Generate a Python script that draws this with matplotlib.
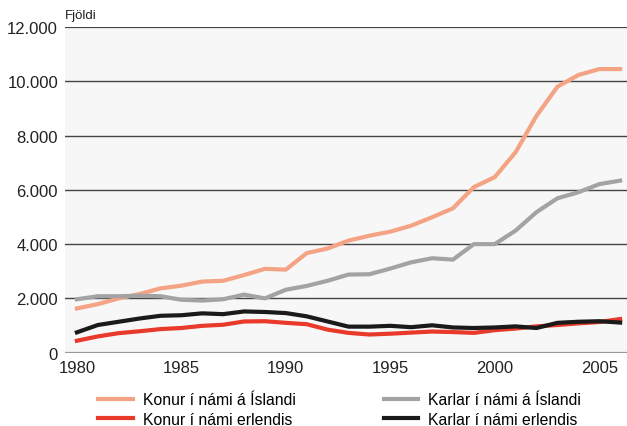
import matplotlib.pyplot as plt
from matplotlib.ticker import FuncFormatter

plt.rcParams['font.family'] = ['Liberation Sans', 'DejaVu Sans']

years = list(range(1980, 2007))
konur_isl = [1630, 1790, 2000, 2160, 2370, 2470, 2620, 2650, 2860, 3090, 3060, 3670, 3840,
             4130, 4310, 4460, 4680, 4990, 5320, 6100, 6470, 7390, 8730, 9800, 10230, 10450, 10450]
karlar_isl = [1970, 2080, 2080, 2100, 2080, 1950, 1920, 1970, 2140, 2000, 2320, 2460, 2650,
              2880, 2890, 3100, 3330, 3480, 3430, 4000, 4000, 4500, 5180, 5690, 5910, 6210, 6340]
konur_erl = [440, 600, 720, 790, 870, 910, 990, 1030, 1150, 1160, 1100, 1050, 850,
             730, 670, 700, 740, 780, 760, 730, 830, 890, 970, 1020, 1080, 1130, 1240]
karlar_erl = [750, 1020, 1140, 1260, 1360, 1380, 1450, 1420, 1520, 1500, 1460, 1340, 1150,
              960, 960, 990, 940, 1010, 930, 910, 930, 970, 910, 1100, 1140, 1160, 1110]

fig = plt.figure(figsize=(6.27, 4.27), dpi=100)
ax = fig.add_axes([65/627, 73.3/427, 562/627, 325.7/427])
ax.set_facecolor('#f7f7f7')

# gridlines
for v in [2000, 4000, 6000, 8000, 10000]:
    ax.axhline(v, color='#444444', lw=1.0, zorder=1)
ax.axhline(12000, color='#444444', lw=1.6, zorder=1)
ax.axhline(0, color='#999999', lw=1.6, zorder=1)

l1, = ax.plot(years, konur_isl, color='#f4a384', lw=3, label='Konur í námi á Íslandi', zorder=3)
l2, = ax.plot(years, karlar_isl, color='#a3a3a5', lw=3, label='Karlar í námi á Íslandi', zorder=3)
l3, = ax.plot(years, konur_erl, color='#e8392b', lw=3, label='Konur í námi erlendis', zorder=3)
l4, = ax.plot(years, karlar_erl, color='#1a1a1a', lw=3, label='Karlar í námi erlendis', zorder=4)

ax.set_xlim(1979.43, 2006.33)
ax.set_ylim(0, 12000)
ax.set_yticks(range(0, 12001, 2000))
ax.set_xticks([1980, 1985, 1990, 1995, 2000, 2005])
ax.yaxis.set_major_formatter(FuncFormatter(lambda v, p: f"{v:,.0f}".replace(",", ".")))
ax.tick_params(length=0, labelsize=12, colors='#222222', pad=5)
for s in ax.spines.values():
    s.set_visible(False)

fig.text(65/627, 1 - 16/427, 'Fjöldi', fontsize=9.5, va='center', ha='left', color='#222222')

fig.legend([l1, l3, l2, l4],
           [l1.get_label(), l3.get_label(), l2.get_label(), l4.get_label()],
           ncol=2, loc='upper left', bbox_to_anchor=(84/627, 1 - 379/427),
           frameon=False, fontsize=11.3, handlelength=2.2, columnspacing=5.6,
           labelspacing=0.3, handletextpad=0.65)

fig.savefig('out.png', dpi=100)
